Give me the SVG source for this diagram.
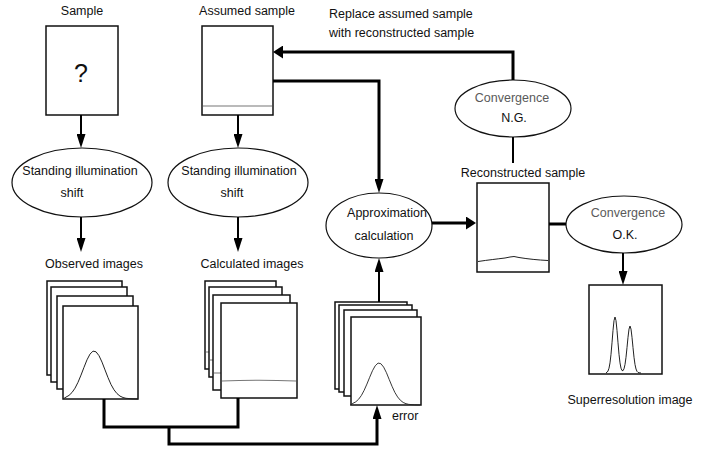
<svg xmlns="http://www.w3.org/2000/svg" width="722" height="450" viewBox="0 0 722 450">
  <style>
    text { font-family: "Liberation Sans", Arial, sans-serif; font-size: 12.5px; fill: #111; }
    .mid { text-anchor: middle; }
    .grey { fill: #5a5a5a; }
    .box { fill: #fff; stroke: #111; stroke-width: 1.5; }
    .ell { fill: #fff; stroke: #111; stroke-width: 1.2; }
    .curve { fill: none; stroke: #222; stroke-width: 1; }
    .level { fill: none; stroke: #777; stroke-width: 1.2; }
    .wire { fill: none; stroke: #000; stroke-width: 3; }
    .wire2 { fill: none; stroke: #000; stroke-width: 2; }
  </style>
  <defs>
    <!-- slim head for vertical arrows -->
    <marker id="head" viewBox="0 0 14 9" markerWidth="14" markerHeight="9" refX="0" refY="4.5" orient="auto" markerUnits="userSpaceOnUse">
      <path d="M0,0 L14,4.5 L0,9 z" fill="#000"/>
    </marker>
    <!-- short, wide head for the thick horizontal arrows -->
    <marker id="headwide" viewBox="0 0 10 13" markerWidth="10" markerHeight="13" refX="0" refY="6.5" orient="auto" markerUnits="userSpaceOnUse">
      <path d="M0,0 L10,6.5 L0,13 z" fill="#000"/>
    </marker>
    <!-- single gaussian profile: baseline y=0, peak at (0,-48) -->
    <path id="gauss" d="M-31,0 L-28,-1.9 L-25,-3.6 L-22,-6.5 L-19,-10.8 L-16,-16.7 L-13,-23.9 L-10,-31.7 L-7,-39.2 L-4,-44.9 L-1,-47.9 L2,-47.2 L5,-43.3 L8,-36.9 L11,-29.1 L14,-21.4 L17,-14.5 L20,-9.2 L23,-5.4 L26,-2.9 L29,-1.5 L32,-0.7 L38,-0.2 L44,0"/>
  </defs>

  <!-- sample -->
  <g id="sample">
    <text class="mid" x="82" y="15">Sample</text>
    <rect class="box" x="46" y="26" width="72" height="89"/>
    <text class="mid" x="81" y="82" style="font-size:25px">?</text>
  </g>

  <!-- assumed sample -->
  <g id="assumed-sample">
    <text class="mid" x="247" y="15">Assumed sample</text>
    <rect class="box" x="202" y="26" width="71" height="89"/>
    <line class="level" x1="203" y1="106" x2="272" y2="106"/>
  </g>

  <g id="feedback-label">
    <text x="329" y="18">Replace assumed sample</text>
    <text x="329" y="37">with reconstructed sample</text>
  </g>

  <!-- illumination shift ellipses -->
  <g id="shift-observed">
    <ellipse class="ell" cx="82" cy="182.5" rx="70" ry="34.5"/>
    <text class="mid" x="80" y="175">Standing illumination</text>
    <text class="mid" x="72" y="197">shift</text>
  </g>
  <g id="shift-calculated">
    <ellipse class="ell" cx="238" cy="182.5" rx="70" ry="34.5"/>
    <text class="mid" x="239" y="175">Standing illumination</text>
    <text class="mid" x="232" y="197">shift</text>
  </g>

  <!-- observed images stack -->
  <g id="observed-images">
    <text class="mid" x="94" y="268">Observed images</text>
    <rect class="box" x="47" y="281" width="75" height="94"/>
    <rect class="box" x="51" y="287" width="76" height="95"/>
    <rect class="box" x="57" y="296" width="76" height="93"/>
    <rect class="box" x="63" y="306" width="75" height="93"/>
    <use href="#gauss" class="curve" transform="translate(94,399)"/>
  </g>

  <!-- calculated images stack -->
  <g id="calculated-images">
    <text class="mid" x="252" y="268">Calculated images</text>
    <rect class="box" x="205" y="281" width="71" height="88"/>
    <line class="level" x1="206" y1="352" x2="275" y2="352"/>
    <rect class="box" x="209" y="287" width="73" height="90"/>
    <line class="level" x1="210" y1="360" x2="281" y2="360"/>
    <rect class="box" x="213" y="295" width="77" height="95"/>
    <line class="level" x1="214" y1="373" x2="289" y2="373"/>
    <rect class="box" x="221" y="303" width="76" height="95"/>
    <path class="level" d="M222,381 Q259,379.5 296,381"/>
  </g>

  <!-- error stack -->
  <g id="error-images">
    <rect class="box" x="335" y="302" width="72" height="87"/>
    <rect class="box" x="339" y="305" width="73" height="87"/>
    <rect class="box" x="344" y="310" width="73" height="86"/>
    <rect class="box" x="351" y="317" width="70" height="88"/>
    <use href="#gauss" class="curve" transform="translate(379,405) scale(0.93,0.875)"/>
    <text x="392" y="420">error</text>
  </g>

  <!-- approximation calculation -->
  <g id="approximation">
    <ellipse class="ell" cx="379" cy="225.5" rx="53" ry="32.5"/>
    <text class="mid" x="387" y="217">Approximation</text>
    <text class="mid" x="384" y="240">calculation</text>
  </g>

  <!-- reconstructed sample -->
  <g id="reconstructed-sample">
    <text class="mid" x="523" y="177">Reconstructed sample</text>
    <rect class="box" x="477" y="183" width="72" height="89"/>
    <path class="curve" d="M478,261.5 C488,260 497,259 505,258 L510,257 L514,256.5 L519,257.5 C528,259 538,260 548,260.5"/>
  </g>

  <!-- convergence decisions -->
  <g id="convergence-ng">
    <ellipse class="ell" cx="513" cy="108.5" rx="58" ry="28.5"/>
    <text class="mid grey" x="512" y="102">Convergence</text>
    <text class="mid" x="514" y="122">N.G.</text>
  </g>
  <g id="convergence-ok">
    <ellipse class="ell" cx="624" cy="224.5" rx="58" ry="28.5"/>
    <text class="mid grey" x="628" y="217">Convergence</text>
    <text class="mid" x="625" y="239">O.K.</text>
  </g>

  <!-- super-resolution result -->
  <g id="superresolution-image">
    <rect class="box" x="589" y="285" width="73" height="89"/>
    <polyline class="curve" points="606,372.8 607,372.3 608,371 609,368.2 610,362.9 611,354.3 612,342.8 613,330.4 614,320.7 615,317 616,320.7 617,330.4 618,342.8 619,354.3 620,362.9 621,368.2 622,370.5 623,370.7 624,368.8 625,364.5 626,357.3 627,347.6 628,337.3 629,329.1 630,326 631,329.1 632,337.3 633,347.6 634,357.3 635,364.5 636,369 637,371.4 638,372.4 639,372.8 641,373"/>
    <text class="mid" x="630" y="404">Superresolution image</text>
  </g>

  <!-- connectors -->
  <g id="connectors">
    <path class="wire2" d="M81,115 V134" marker-end="url(#head)"/>
    <path class="wire2" d="M81,217 V238" marker-end="url(#head)"/>
    <path class="wire2" d="M238,115 V134" marker-end="url(#head)"/>
    <path class="wire2" d="M238,217 V238" marker-end="url(#head)"/>
    <path class="wire" d="M104,399 V427 H238 V398"/>
    <path class="wire" d="M169,427 V444 H377 V419" marker-end="url(#head)"/>
    <path class="wire2" d="M379,302 V272" marker-end="url(#head)"/>
    <path class="wire" d="M273,81 H379 V179" marker-end="url(#head)"/>
    <path class="wire" d="M432,223 H466" marker-end="url(#headwide)"/>
    <path class="wire" d="M549,224 H566"/>
    <path class="wire2" d="M623,253 V271" marker-end="url(#head)"/>
    <path class="wire2" d="M513,137 V163"/>
    <path class="wire" d="M513,80 V52 H283" marker-end="url(#headwide)"/>
  </g>
</svg>
